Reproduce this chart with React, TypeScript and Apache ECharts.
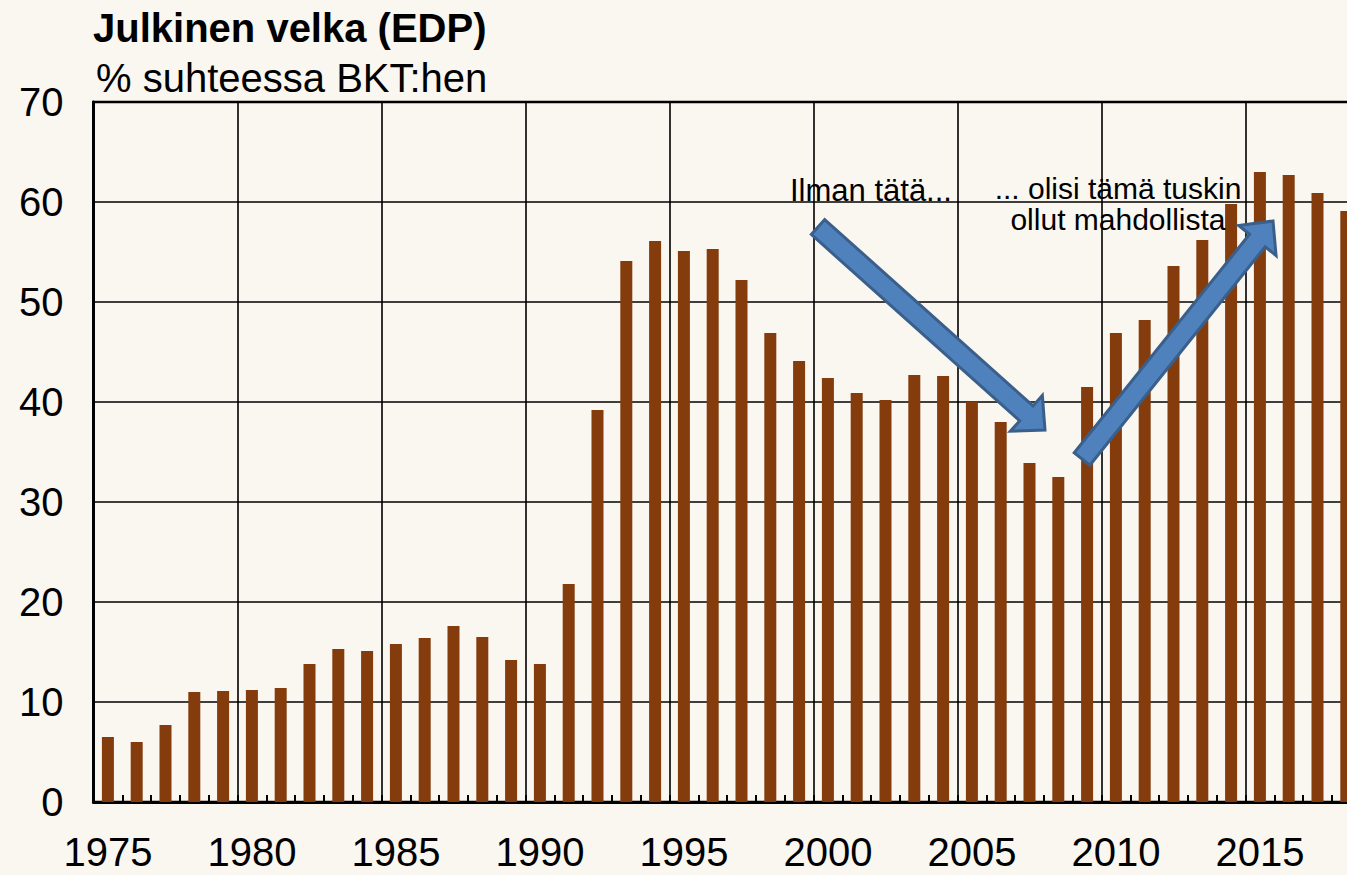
import React, { useEffect, useRef } from "react";
import * as echarts from "echarts";

const years: string[] = [];
for (let y = 1975; y <= 2018; y++) years.push(String(y));

const debtValues: number[] = [
  6.5, 6.0, 7.7, 11.0, 11.1, 11.2, 11.4, 13.8, 15.3, 15.1,
  15.8, 16.4, 17.6, 16.5, 14.2, 13.8, 21.8, 39.2, 54.1, 56.1,
  55.1, 55.3, 52.2, 46.9, 44.1, 42.4, 40.9, 40.2, 42.7, 42.6,
  40.0, 38.0, 33.9, 32.5, 41.5, 46.9, 48.2, 53.6, 56.2, 59.8,
  63.0, 62.7, 60.9, 59.1,
];

const titleText = "Julkinen velka (EDP)";
const subtitleText = "% suhteessa BKT:hen";
const note1 = "Ilman tätä...";
const note2 = "... olisi tämä tuskin\nollut mahdollista";

const FONT = "'Liberation Sans', Arial, Helvetica, sans-serif";
const BG = "#FAF6F0";

function arrowPoints(x1: number, y1: number, x2: number, y2: number, s: number, h: number, L: number): number[][] {
  const dx = x2 - x1;
  const dy = y2 - y1;
  const len = Math.sqrt(dx * dx + dy * dy);
  const ux = dx / len;
  const uy = dy / len;
  const nx = -uy;
  const ny = ux;
  const bx = x2 - ux * L;
  const by = y2 - uy * L;
  return [
    [x1 + nx * s, y1 + ny * s],
    [bx + nx * s, by + ny * s],
    [bx + nx * h, by + ny * h],
    [x2, y2],
    [bx - nx * h, by - ny * h],
    [bx - nx * s, by - ny * s],
    [x1 - nx * s, y1 - ny * s],
  ];
}

export default function App() {
  const ref = useRef<HTMLDivElement>(null);
  useEffect(() => {
    if (!ref.current) return;
    const chart = echarts.init(ref.current, undefined, { renderer: "svg" });
    const arrowStyle = { fill: "#4F81BD", stroke: "#3A5F8B", lineWidth: 3 };
    chart.setOption({
      animation: false,
      backgroundColor: BG,
      grid: {
        left: 93.5,
        top: 102,
        width: 1267.2,
        height: 700,
        show: true,
        borderColor: "#000",
        borderWidth: 2.5,
        backgroundColor: "transparent",
      },
      xAxis: {
        type: "category",
        data: years,
        boundaryGap: true,
        axisLine: { show: true, lineStyle: { color: "#000", width: 3 } },
        axisTick: { show: true, inside: true, length: 7, interval: 0, lineStyle: { color: "#000", width: 2 } },
        axisLabel: {
          interval: (i: number) => i % 5 === 0,
          fontSize: 40,
          fontFamily: FONT,
          color: "#000",
          margin: 30,
        },
        splitLine: {
          show: true,
          interval: (i: number) => i % 5 === 0,
          lineStyle: { color: "#000", width: 1.6 },
        },
      },
      yAxis: {
        type: "value",
        min: 0,
        max: 70,
        interval: 10,
        axisLine: { show: true, lineStyle: { color: "#000", width: 3 } },
        axisTick: { show: false },
        axisLabel: { fontSize: 40, fontFamily: FONT, color: "#000", margin: 30 },
        splitLine: { show: true, lineStyle: { color: "#000", width: 1.6 } },
      },
      series: [
        {
          type: "bar",
          data: debtValues,
          barWidth: 12,
          itemStyle: { color: "#843C0C" },
        },
      ],
      graphic: [
        {
          type: "text",
          x: 93,
          y: 28,
          style: { text: titleText, font: `bold 40px ${FONT}`, fill: "#000", textVerticalAlign: "middle" },
        },
        {
          type: "text",
          x: 96,
          y: 78,
          style: { text: subtitleText, font: `40px ${FONT}`, fill: "#000", textVerticalAlign: "middle" },
        },
        {
          type: "text",
          x: 790,
          y: 190,
          z: 10,
          style: { text: note1, font: `31px ${FONT}`, fill: "#000", textVerticalAlign: "middle" },
        },
        {
          type: "text",
          x: 1118,
          y: 204,
          z: 10,
          style: {
            text: note2,
            font: `30px ${FONT}`,
            lineHeight: 31,
            fill: "#000",
            textAlign: "center",
            textVerticalAlign: "middle",
          },
        },
        {
          type: "polygon",
          z: 10,
          shape: { points: arrowPoints(818, 227, 1045, 430, 10, 24, 25) },
          style: arrowStyle,
        },
        {
          type: "polygon",
          z: 10,
          shape: { points: arrowPoints(1082, 459, 1273, 221, 10, 24, 25) },
          style: arrowStyle,
        },
      ],
    });
    return () => chart.dispose();
  }, []);
  return (
    <div style={{ position: "fixed", left: 0, top: 0, width: 1347, height: 875, overflow: "hidden", background: BG }}>
      <div ref={ref} style={{ width: 1400, height: 875 }} />
    </div>
  );
}
